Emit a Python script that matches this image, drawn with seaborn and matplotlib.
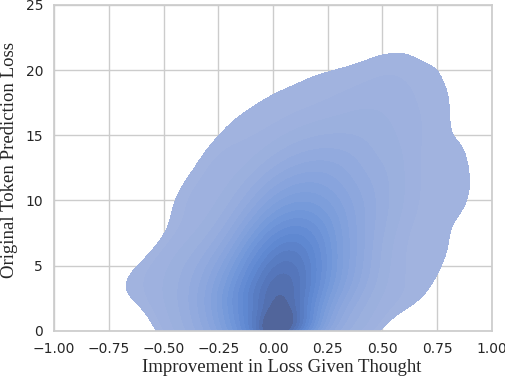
import numpy as np
import pandas as pd
import matplotlib
matplotlib.use("Agg")
import matplotlib.pyplot as plt
import seaborn as sns

# relative density, one row per loss value
x_grid = [-0.7, -0.6, -0.5, -0.4, -0.3, -0.2, -0.1, 0.0, 0.1, 0.2, 0.3, 0.4, 0.5, 0.6, 0.7, 0.8, 0.9]
y_grid = [0.0, 2, 3.5, 5, 6.5, 8, 9.5, 11, 12.5, 14, 15.5, 17, 18.5, 20, 21.5]
density = [
    [0.2, 0.8, 1.6, 3.5, 7, 14, 25, 50, 35, 14, 5, 3, 1.2, 0.5, 0, 0, 0],
    [0.9, 1.2, 1.8, 3.5, 7, 13, 20, 25, 22, 12, 6, 3, 1.6, 1.5, 1.0, 0, 0],
    [1.3, 1.2, 1.8, 3, 5.5, 10, 16, 22, 21, 14, 8, 4.5, 1.8, 1.1, 1.2, 0.6, 0],
    [0.7, 1.2, 1.6, 2.8, 4.8, 8.5, 14, 20, 20, 15, 8.5, 5, 2, 1.1, 1.2, 1, 0.2],
    [0, 0.5, 1.2, 1.8, 3, 5.5, 11, 16, 18, 14, 8.5, 5, 2, 1.1, 1, 1.2, 0.4],
    [0, 0, 0.8, 1.2, 1.8, 4, 8, 12, 14, 12, 8, 5, 2.6, 1.3, 1, 1, 0.7],
    [0, 0, 0.8, 1.5, 1.4, 2.5, 5, 8.5, 10, 9.5, 7.5, 5, 3, 1.7, 1, 1, 1.2],
    [0, 0, 0.3, 1.4, 1.2, 1.8, 3.5, 6, 7.5, 7.5, 6, 4.2, 3, 1.7, 1, 1, 1.4],
    [0, 0, 0, 0.6, 1.5, 1.3, 2, 3.5, 4.8, 5.5, 5, 3.5, 2.8, 1.7, 1, 1, 1.3],
    [0, 0, 0, 0.2, 1.2, 1.3, 1.3, 2, 3, 3.5, 3.4, 3, 2, 1.7, 1, 1, 1.2],
    [0, 0, 0, 0, 0.4, 1.3, 1.1, 1.2, 1.6, 2, 2.2, 2.2, 2, 1.7, 1.1, 1, 1],
    [0, 0, 0, 0, 0, 0.7, 1.2, 1, 1.1, 1.2, 1.5, 1.9, 1.8, 1.5, 1.1, 1, 0.9],
    [0, 0, 0, 0, 0, 0, 0.6, 1.2, 1, 1, 1.1, 1.3, 1.5, 1.4, 1, 1, 0.9],
    [0, 0, 0, 0, 0, 0, 0, 0.3, 1, 1.3, 1.2, 1, 1.1, 1.1, 1, 1, 0.9],
    [0, 0, 0, 0, 0, 0, 0, 0, 0, 0, 0.5, 1, 1.3, 1.4, 1, 1.1, 0.4],
]

# band colours, light edge to dark centre
band_colors = ["#a1b3df", "#8ba6dd", "#7499da", "#5f88d2", "#5474b8", "#4f5e8c"]

rows = []
for j, yv in enumerate(y_grid):
    for i, xv in enumerate(x_grid):
        if density[j][i] > 0:
            rows.append((xv, yv, density[j][i]))
df = pd.DataFrame(rows, columns=["improvement", "loss", "w"])

sns.set_theme(style="whitegrid")
plt.rcParams["font.family"] = ["DejaVu Sans"]
fig = plt.figure(figsize=(5.06, 3.82), dpi=100)
ax = fig.add_axes([0.107, 0.134, 0.865, 0.853])

cmap = sns.blend_palette(band_colors, as_cmap=True)
sns.kdeplot(data=df, x="improvement", y="loss", weights="w", fill=True,
            levels=20, bw_method=0.25, cmap=cmap, ax=ax)

ax.set_xlim(-1, 1)
ax.set_ylim(0, 25)
ax.set_xticks(np.arange(-1, 1.01, 0.25))
ax.set_yticks([0, 5, 10, 15, 20, 25])
ax.tick_params(labelsize=10, pad=2)
ax.set_xlabel("Improvement in Loss Given Thought", family="Liberation Serif", fontsize=13.5, labelpad=2)
ax.set_ylabel("Original Token Prediction Loss", family="Liberation Serif", fontsize=13.5, labelpad=5)
ax.xaxis.label.set_x(0.52)
ax.yaxis.label.set_y(0.525)

fig.savefig("out.png", dpi=100)
